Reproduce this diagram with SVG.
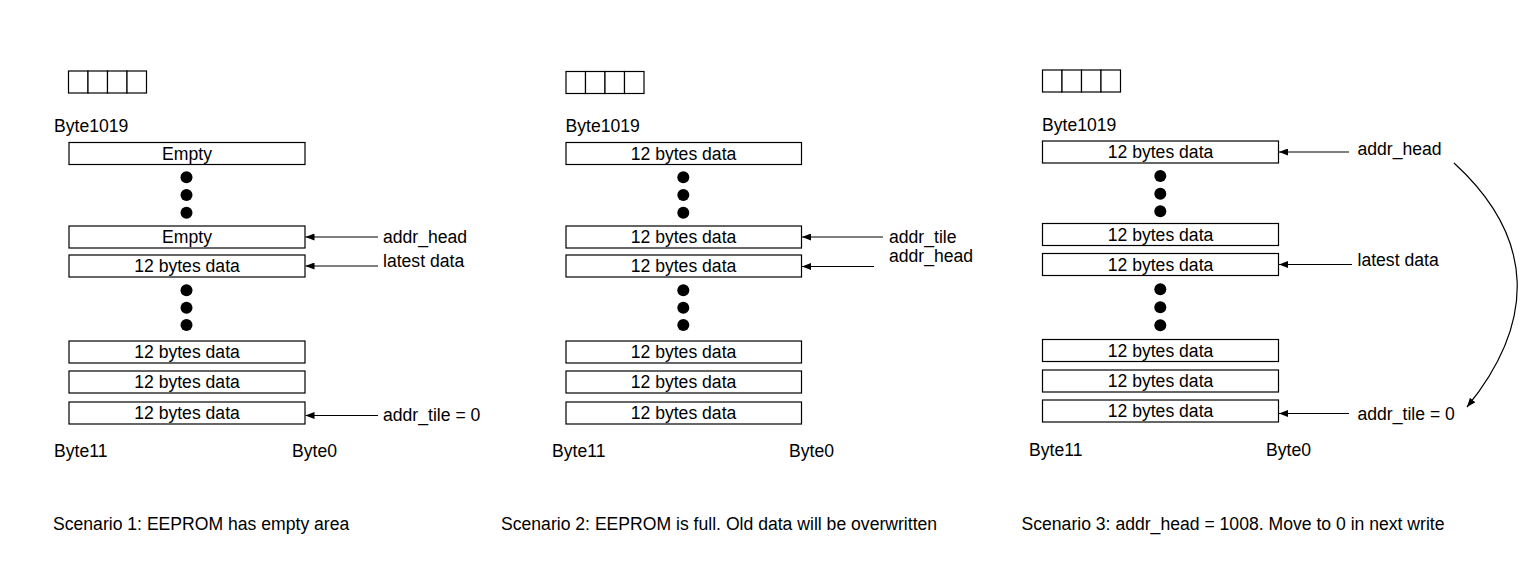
<svg xmlns="http://www.w3.org/2000/svg" width="1538" height="584" viewBox="0 0 1538 584">
<style>
text{font-family:"Liberation Sans",Arial,Helvetica,sans-serif;font-size:17.6px;fill:#000}
.c{text-anchor:middle}
.box{fill:#fff;stroke:#000;stroke-width:1.2}
.cell{fill:#fff;stroke:#000;stroke-width:1.2}
.ln{fill:none;stroke:#000;stroke-width:1.2}
.dot{fill:#000}
</style>
<defs>
<marker id="ah" markerWidth="9" markerHeight="7" refX="9" refY="3.5" orient="auto" markerUnits="userSpaceOnUse">
<path d="M0,0 L9,3.5 L0,7 z" fill="#000"/>
</marker>
</defs>
<rect width="1538" height="584" fill="#fff"/>

<!-- Scenario 1 -->
<g id="s1-header">
<rect class="cell" x="68.5" y="71" width="19.5" height="22"/>
<rect class="cell" x="88" y="71" width="19.5" height="22"/>
<rect class="cell" x="107.5" y="71" width="19.5" height="22"/>
<rect class="cell" x="127" y="71" width="19.5" height="22"/>
<text x="54" y="131.5">Byte1019</text>
<text x="54" y="456.5">Byte11</text>
<text x="292" y="456.5">Byte0</text>
</g>
<g id="s1-r1"><rect class="box" x="69" y="142.5" width="236" height="22"/><text class="c" x="187" y="159.8">Empty</text></g>
<g id="s1-dots1"><circle class="dot" cx="186.5" cy="177.3" r="6"/><circle class="dot" cx="186.5" cy="195" r="6"/><circle class="dot" cx="186.5" cy="212.7" r="6"/></g>
<g id="s1-r2"><rect class="box" x="69" y="226" width="236" height="22"/><text class="c" x="187" y="243.3">Empty</text></g>
<g id="s1-r3"><rect class="box" x="69" y="255" width="236" height="22"/><text class="c" x="187" y="272.3">12 bytes data</text></g>
<g id="s1-dots2"><circle class="dot" cx="186.5" cy="290.3" r="6"/><circle class="dot" cx="186.5" cy="307.7" r="6"/><circle class="dot" cx="186.5" cy="325" r="6"/></g>
<g id="s1-r4"><rect class="box" x="69" y="341" width="236" height="22"/><text class="c" x="187" y="358.3">12 bytes data</text></g>
<g id="s1-r5"><rect class="box" x="69" y="371" width="236" height="22"/><text class="c" x="187" y="388.3">12 bytes data</text></g>
<g id="s1-r6"><rect class="box" x="69" y="402" width="236" height="22"/><text class="c" x="187" y="419.3">12 bytes data</text></g>
<g id="s1-labels">
<text x="383" y="242.5">addr_head</text>
<text x="383" y="266.5">latest data</text>
<text x="383" y="420.5">addr_tile = 0</text>
<text x="53" y="530">Scenario 1: EEPROM has empty area</text>
</g>

<!-- Scenario 2 -->
<g id="s2-header">
<rect class="cell" x="566" y="71.5" width="19.5" height="22"/>
<rect class="cell" x="585.5" y="71.5" width="19.5" height="22"/>
<rect class="cell" x="605" y="71.5" width="19.5" height="22"/>
<rect class="cell" x="624.5" y="71.5" width="19.5" height="22"/>
<text x="565.5" y="131.5">Byte1019</text>
<text x="552" y="456.5">Byte11</text>
<text x="789" y="456.5">Byte0</text>
</g>
<g id="s2-r1"><rect class="box" x="566" y="142.5" width="235.5" height="22"/><text class="c" x="683.5" y="159.8">12 bytes data</text></g>
<g id="s2-dots1"><circle class="dot" cx="683.3" cy="177.3" r="6"/><circle class="dot" cx="683.3" cy="195" r="6"/><circle class="dot" cx="683.3" cy="212.7" r="6"/></g>
<g id="s2-r2"><rect class="box" x="566" y="226" width="235.5" height="22"/><text class="c" x="683.5" y="243.3">12 bytes data</text></g>
<g id="s2-r3"><rect class="box" x="566" y="255" width="235.5" height="22"/><text class="c" x="683.5" y="272.3">12 bytes data</text></g>
<g id="s2-dots2"><circle class="dot" cx="683.3" cy="290.3" r="6"/><circle class="dot" cx="683.3" cy="307.7" r="6"/><circle class="dot" cx="683.3" cy="325" r="6"/></g>
<g id="s2-r4"><rect class="box" x="566" y="341" width="235.5" height="22"/><text class="c" x="683.5" y="358.3">12 bytes data</text></g>
<g id="s2-r5"><rect class="box" x="566" y="371" width="235.5" height="22"/><text class="c" x="683.5" y="388.3">12 bytes data</text></g>
<g id="s2-r6"><rect class="box" x="566" y="402" width="235.5" height="22"/><text class="c" x="683.5" y="419.3">12 bytes data</text></g>
<g id="s2-labels">
<text x="889" y="242.5">addr_tile</text>
<text x="889" y="261.5">addr_head</text>
<text x="501" y="530">Scenario 2: EEPROM is full. Old data will be overwritten</text>
</g>

<!-- Scenario 3 -->
<g id="s3-header">
<rect class="cell" x="1042.5" y="70" width="19.5" height="22"/>
<rect class="cell" x="1062" y="70" width="19.5" height="22"/>
<rect class="cell" x="1081.5" y="70" width="19.5" height="22"/>
<rect class="cell" x="1101" y="70" width="19.5" height="22"/>
<text x="1042" y="131">Byte1019</text>
<text x="1029" y="456">Byte11</text>
<text x="1266" y="456">Byte0</text>
</g>
<g id="s3-r1"><rect class="box" x="1042.5" y="141" width="236" height="22"/><text class="c" x="1160.5" y="158.3">12 bytes data</text></g>
<g id="s3-dots1"><circle class="dot" cx="1160.3" cy="176" r="6"/><circle class="dot" cx="1160.3" cy="193.7" r="6"/><circle class="dot" cx="1160.3" cy="211.3" r="6"/></g>
<g id="s3-r2"><rect class="box" x="1042.5" y="223.5" width="236" height="22"/><text class="c" x="1160.5" y="240.8">12 bytes data</text></g>
<g id="s3-r3"><rect class="box" x="1042.5" y="253.5" width="236" height="22"/><text class="c" x="1160.5" y="270.8">12 bytes data</text></g>
<g id="s3-dots2"><circle class="dot" cx="1160.3" cy="289.3" r="6"/><circle class="dot" cx="1160.3" cy="307.3" r="6"/><circle class="dot" cx="1160.3" cy="325.3" r="6"/></g>
<g id="s3-r4"><rect class="box" x="1042.5" y="339.5" width="236" height="22"/><text class="c" x="1160.5" y="356.8">12 bytes data</text></g>
<g id="s3-r5"><rect class="box" x="1042.5" y="370" width="236" height="22"/><text class="c" x="1160.5" y="387.3">12 bytes data</text></g>
<g id="s3-r6"><rect class="box" x="1042.5" y="400" width="236" height="22"/><text class="c" x="1160.5" y="417.3">12 bytes data</text></g>
<g id="s3-labels">
<text x="1357.5" y="155">addr_head</text>
<text x="1357.5" y="265.5">latest data</text>
<text x="1357.5" y="419.5">addr_tile = 0</text>
<text x="1021.5" y="530">Scenario 3: addr_head = 1008. Move to 0 in next write</text>
</g>

<g id="connectors">
<line class="ln" x1="378" y1="237" x2="305.5" y2="237" marker-end="url(#ah)"/>
<line class="ln" x1="378" y1="266" x2="305.5" y2="266" marker-end="url(#ah)"/>
<line class="ln" x1="378" y1="415.5" x2="305.5" y2="415.5" marker-end="url(#ah)"/>
<line class="ln" x1="883" y1="237" x2="802" y2="237" marker-end="url(#ah)"/>
<line class="ln" x1="874" y1="266.5" x2="802" y2="266.5" marker-end="url(#ah)"/>
<line class="ln" x1="1349" y1="152" x2="1279" y2="152" marker-end="url(#ah)"/>
<line class="ln" x1="1352" y1="264.5" x2="1279" y2="264.5" marker-end="url(#ah)"/>
<line class="ln" x1="1349" y1="413.5" x2="1279" y2="413.5" marker-end="url(#ah)"/>
<path class="ln" d="M1454,163 C1536,238 1536,322 1467,407" marker-end="url(#ah)"/>
</g>
</svg>
